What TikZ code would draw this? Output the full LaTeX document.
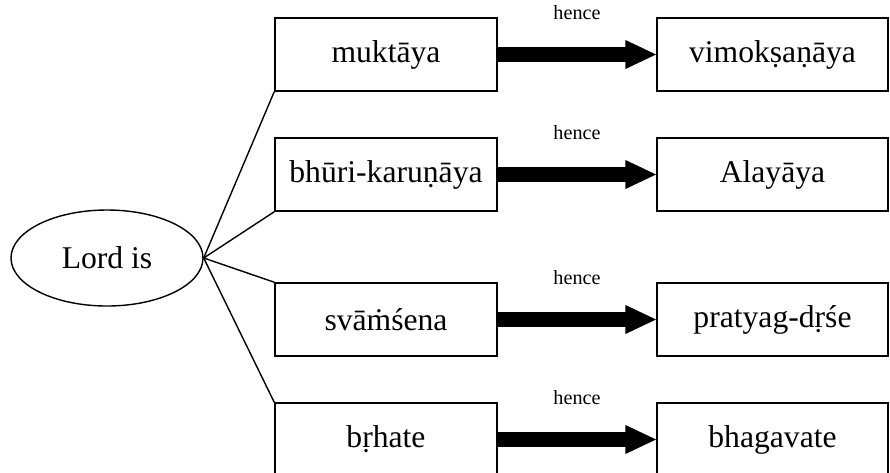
\documentclass[tikz,border=0pt]{standalone}
\usepackage{fontspec}
\setmainfont{Liberation Serif}
\usetikzlibrary{shapes}
\usetikzlibrary{positioning}
\usetikzlibrary{arrows.meta}

\begin{document}
\begin{tikzpicture}[scale=0.2]
		\tikzstyle{every node}+=[inner sep=0pt]
		\tikzstyle{word}=[draw, line width=0.9pt, minimum height=1.46cm, font=\fontsize{18}{21}\selectfont]
		\tikzstyle{cause}=[word, minimum width=4.44cm]
		\tikzstyle{effect}=[word, minimum width=4.62cm]
		\tikzstyle{hence}=[-{Triangle[length=18pt,width=15pt]}, line width=8.5pt, shorten >=-0.5pt]
		\tikzstyle{label}=[font=\fontsize{11.5}{13}\selectfont]
		\useasboundingbox (0,0) rectangle (89,-47.2);
		% the subject
		\draw (10.7,-25.8) node [draw, ellipse, line width=0.8pt, minimum width=3.84cm, minimum height=1.92cm, font=\fontsize{18}{21}\selectfont] (lord) {Lord is};
		% left column
		\draw (38.6,-5.45) node [cause] (mukta) {muktāya};
		\draw (38.6,-17.45) node [cause] (bhuri) {bhūri-karuṇāya};
		\draw (38.6,-31.95) node [cause] (svamsa) {svāṁśena};
		\draw (38.6,-43.95) node [cause] (brhat) {bṛhate};
		% right column
		\draw (77.25,-5.45) node [effect] (vimoksa) {vimokṣaṇāya};
		\draw (77.25,-17.45) node [effect] (alaya) {Alayāya};
		\draw (77.25,-31.95) node [effect] (pratyag) {pratyag-dṛśe};
		\draw (77.25,-43.95) node [effect] (bhaga) {bhagavate};
		% fan out of the ellipse
		\draw [line width=0.8pt] (lord.east) -- (mukta.south west);
		\draw [line width=0.8pt] (lord.east) -- (bhuri.south west);
		\draw [line width=0.8pt] (lord.east) -- (svamsa.north west);
		\draw [line width=0.8pt] (lord.east) -- (brhat.north west);
		% thick arrows
		\draw [hence] (mukta) -- (vimoksa) node [midway, above=0.55cm, label] {hence};
		\draw [hence] (bhuri) -- (alaya) node [midway, above=0.55cm, label] {hence};
		\draw [hence] (svamsa) -- (pratyag) node [midway, above=0.55cm, label] {hence};
		\draw [hence] (brhat) -- (bhaga) node [midway, above=0.55cm, label] {hence};
\end{tikzpicture}
\end{document}
